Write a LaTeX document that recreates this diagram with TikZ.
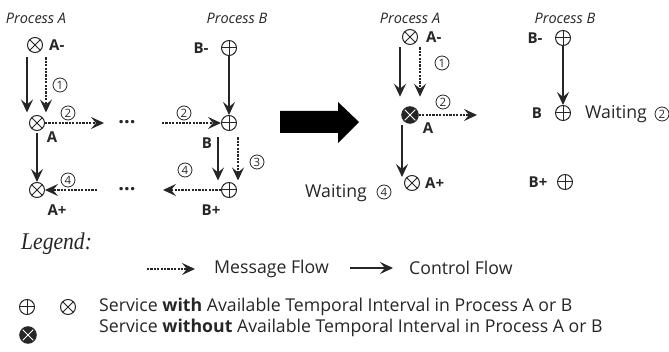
\documentclass[tikz,border=0pt]{standalone}
\usepackage{fontspec}
\setmainfont{Open Sans}
\newfontfamily\serifit{Liberation Serif}[ItalicFont=* Italic, FakeStretch=0.9]
\usetikzlibrary{arrows.meta,calc}
\definecolor{ink}{HTML}{262626}

\tikzset{
  svc/.style={circle, draw=ink, line width=1pt, minimum size=15pt, inner sep=0pt},
  otimes/.style={svc, path picture={\draw[ink, line width=1pt, shift={(path picture bounding box.center)}]
      (-5.5,-5.5) -- (5.5,5.5) (-5.5,5.5) -- (5.5,-5.5);}},
  oplus/.style={svc, path picture={\draw[ink, line width=1pt, shift={(path picture bounding box.center)}]
      (-8,0) -- (8,0) (0,-8) -- (0,8);}},
  blocked/.style={svc, minimum size=16.5pt, fill=ink, path picture={\draw[white, line width=1pt, shift={(path picture bounding box.center)}]
      (-5.5,-5.5) -- (5.5,5.5) (-5.5,5.5) -- (5.5,-5.5);}},
  tip/.style={-{Stealth[length=13pt,width=12pt,inset=5pt]}},
  ctrl/.style={draw=ink, line width=1.2pt, tip},
  msg/.style={draw=ink, line width=1.2pt, dash pattern=on 2.2pt off 1.2pt, tip},
  num/.style={circle, draw=ink, line width=0.8pt, minimum size=14pt, inner sep=0pt,
      font=\fontsize{11.5}{11.5}\selectfont, text=ink},
  lbl/.style={font=\fontsize{15}{15}\selectfont\bfseries, text=ink, inner sep=0pt},
  title/.style={font=\fontsize{14.5}{14.5}\selectfont\itshape, text=ink, inner sep=0pt},
  txt/.style={font=\fontsize{17.7}{17.7}\selectfont, text=ink, inner sep=0pt, anchor=west},
  dots/.style={font=\fontsize{20}{20}\selectfont\bfseries, text=ink, inner sep=0pt},
}

\begin{document}
\begin{tikzpicture}[x=1pt, y=-1pt]
\useasboundingbox (0,0) rectangle (669,352);

% ---------- before: process A ----------
\node[title] (tA) at (36,18) {Process A};
\node[otimes] (a1) at (35,45) {};
\node[otimes] (a2) at (37,123) {};
\node[otimes] (a3) at (37,190) {};
\node[lbl, anchor=west] (la1) at (49,45) {A-};
\node[lbl] (la2) at (52,137) {A};
\node[lbl] (la3) at (57,210) {A+};

% ---------- before: process B ----------
\node[title] (tB) at (237,18) {Process B};
\node[oplus] (b1) at (229,48) {};
\node[oplus] (b2) at (229,123) {};
\node[oplus] (b3) at (229,190) {};
\node[lbl] (lb1) at (201,48) {B-};
\node[lbl] (lb2) at (207,143) {B};
\node[lbl] (lb3) at (211,210) {B+};

% elided parts of the message paths
\node[dots] (d1) at (127,122) {...};
\node[dots] (d2) at (127,189) {...};
\coordinate (m1) at (104,123);
\coordinate (m2) at (162,123);
\coordinate (m3) at (163,190);
\coordinate (m4) at (97,190);

% control and message flows in process A
\draw[ctrl] ([shift={(-8,4.5)}]a1.south) -- ([shift={(-10,-2.5)}]a2.north);
\draw[msg]  ([shift={(11,4.5)}]a1.south) -- ([shift={(9,-2.5)}]a2.north);
\draw[ctrl] ([shift={(0,2)}]a2.south) -- (a3.north);
\draw[msg] (a2.east) -- (m1);
\draw[msg] (m2) -- (b2.west);
\draw[msg] (b3.west) -- (m3);
\draw[msg] (m4) -- (a3.east);

% control and message flows in process B
\draw[ctrl] (b1.south) -- (b2.north);
\draw[ctrl] ([shift={(-11,6.5)}]b2.south) -- ([shift={(-11,-1.5)}]b3.north);
\draw[msg]  ([shift={(9,6.5)}]b2.south) -- ([shift={(9,-1.5)}]b3.north);

% step numbers
\node[num] (n1)  at (60,85)   {1};
\node[num] (n2)  at (68,113)  {2};
\node[num] (n2b) at (184,113) {2};
\node[num] (n3)  at (257,162) {3};
\node[num] (n4b) at (185,170) {4};
\node[num] (n4)  at (68,180)  {4};

% ---------- transition arrow ----------
\fill[black] (280,111) -- (338,111) -- (338,102) -- (359,122) -- (338,143)
  -- (338,133) -- (280,133) -- cycle;

% ---------- after: process A ----------
\node[title] (tA2) at (410,18) {Process A};
\node[otimes] (ra1) at (410,37) {};
\node[blocked] (ra2) at (410,115) {};
\node[otimes] (ra3) at (412,183) {};
\node[lbl, anchor=west] (lra1) at (426,37) {A-};
\node[lbl] (lra2) at (428,128) {A};
\node[lbl, anchor=west] (lra3) at (425,183) {A+};
\coordinate (m5) at (477,115);
\draw[ctrl] ([shift={(-10,2.5)}]ra1.south) -- ([shift={(-10,-9.5)}]ra2.north);
\draw[msg]  ([shift={(10,2.5)}]ra1.south) -- ([shift={(10,-9.5)}]ra2.north);
\draw[ctrl] ([shift={(-8,1.5)}]ra2.south) -- ([shift={(-10,2)}]ra3.north);
\node[num] (n1r) at (442,63)  {1};
\node[num] (n2r) at (443,102) {2};
\draw[msg] (ra2.east) -- (m5);
\node[txt] (w4) at (305,193) {Waiting};
\node[num] (n4r) at (384,192) {4};

% ---------- after: process B ----------
\node[title] (tB2) at (565,18) {Process B};
\node[oplus] (rb1) at (563,38) {};
\node[oplus] (rb2) at (563,113) {};
\node[oplus] (rb3) at (565,182) {};
\node[lbl] (lrb1) at (535,38) {B-};
\node[lbl] (lrb2) at (537,113) {B};
\node[lbl] (lrb3) at (538,182) {B+};
\draw[ctrl] (rb1.south) -- (rb2.north);
\node[txt] (w2) at (585,114) {Waiting};
\node[num] (n2r2) at (662,114) {2};

% ---------- legend ----------
\node[anchor=west, inner sep=0pt, text=ink, font=\serifit\itshape\fontsize{24}{24}\selectfont] (leg) at (21,244) {Legend:};
\coordinate (lm1) at (147,269);
\coordinate (lm2) at (195,269);
\draw[msg] (lm1) -- (lm2);
\node[txt] (tm) at (214,269) {Message Flow};
\coordinate (lc1) at (350,268);
\coordinate (lc2) at (393,268);
\draw[ctrl] (lc1) -- (lc2);
\node[txt] (tc) at (409,268) {Control Flow};
\node[oplus] (k1) at (27,307) {};
\node[otimes] (k2) at (68,307) {};
\node[txt] (t1) at (99,307) {Service \textbf{with} Available Temporal Interval in Process A or B};
\node[blocked] (k3) at (28,335) {};
\node[txt] (t2) at (99,328) {Service \textbf{without} Available Temporal Interval in Process A or B};
\end{tikzpicture}
\end{document}
